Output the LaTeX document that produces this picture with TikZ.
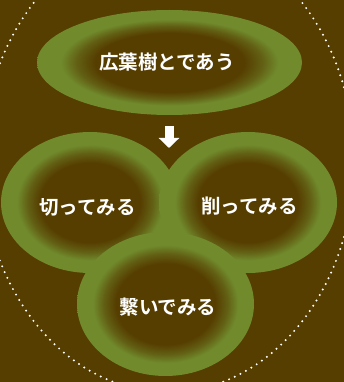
\documentclass[tikz,border=0pt]{standalone}
\usepackage{fontspec}
\newfontfamily\jp[BoldFont={Noto Sans CJK JP Bold}]{Noto Sans CJK JP}
\usetikzlibrary{shapes.geometric,arrows.meta}
\definecolor{bgc}{RGB}{86,61,0}
\definecolor{leaf}{RGB}{112,138,44}
\colorlet{midc}{bgc!55!leaf}
\pgfdeclareradialshading{ring}{\pgfpoint{0bp}{0bp}}{color(0bp)=(bgc); color(14bp)=(bgc); color(17.5bp)=(midc); color(20.5bp)=(leaf); color(25bp)=(leaf); color(50bp)=(leaf)}
\tikzset{
  blob/.style={ellipse, shading=ring, inner sep=0pt},
  lbl/.style={text=white, inner sep=0pt, font=\jp\bfseries\fontsize{19.5pt}{21pt}\selectfont},
  dots/.style={white, line width=2.2pt, line cap=round, dash pattern=on 0pt off 6.3pt},
  bigarrow/.style={white, line width=9pt, -{Triangle[width=20pt,length=10pt]}}
}
\begin{document}
\begin{tikzpicture}[x=1pt,y=-1pt]
\useasboundingbox (0,0) rectangle (344,382);
\fill[bgc] (0,0) rectangle (344,382);
\draw[dots] (168,162) ellipse [x radius=186pt, y radius=230pt];
\node[blob, minimum width=265pt, minimum height=105pt] (top) at (169.5,62.5) {};
\node[lbl] (topT) at (167,62) {広葉樹とであう};
\node[blob, minimum width=178pt, minimum height=141pt] (cut) at (90,202.5) {};
\node[blob, minimum width=178pt, minimum height=141pt] (shave) at (248,202.5) {};
\node[blob, minimum width=177pt, minimum height=144pt] (join) at (165.5,304) {};
\node[lbl] (cutT) at (87.5,207) {切ってみる};
\node[lbl] (shaveT) at (249.5,206) {削ってみる};
\node[lbl] (joinT) at (168,307) {繋いでみる};
\coordinate (a1) at (169,126);
\coordinate (a2) at (169,148);
\draw[bigarrow] (a1) -- (a2);
\end{tikzpicture}
\end{document}
